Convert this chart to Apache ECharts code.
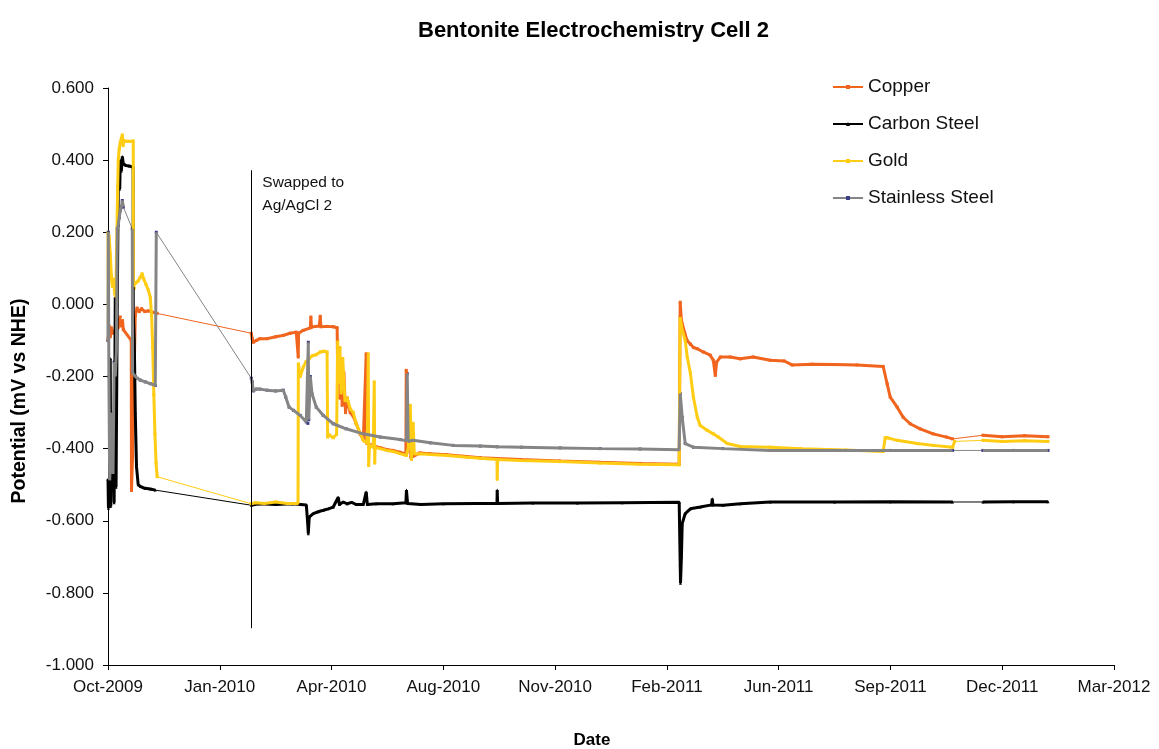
<!DOCTYPE html>
<html>
<head>
<meta charset="utf-8">
<title>Bentonite Electrochemistry Cell 2</title>
<script src="https://cdn.jsdelivr.net/npm/echarts@6/dist/echarts.min.js"></script>
<style>
  html, body { margin: 0; padding: 0; background: #fff; }
  #chart { width: 1159px; height: 749px; }
</style>
</head>
<body>
<div id="chart"></div>
<script>
// Time axis: days counted from the first reading (11 Oct 2009); ticks every 100 days.
const START_UTC = Date.UTC(2009, 9, 11);
const DAY_MS = 86400000;
const MONTHS = ['Jan','Feb','Mar','Apr','May','Jun','Jul','Aug','Sep','Oct','Nov','Dec'];
const xMin = 0, xMax = 900, xStep = 100;
const yTicks = [-1.0, -0.8, -0.6, -0.4, -0.2, 0.0, 0.2, 0.4, 0.6];

// Reference electrode swap (day, top, bottom) and its note
const swapDay = 128.2;
const swapTop = 0.372;
const swapBottom = -0.898;
const swapNote = 'Swapped to\nAg/AgCl 2';

// Readings as [day, potential V vs NHE]; null = logging gap (drawn as a thin join)
const copper = [
  [0,-0.10],[1,-0.06],[2,-0.09],[3,-0.065],[4,-0.08],[6,-0.075],[8,-0.05],[9,-0.065],[10,-0.04],[11,-0.035],
  [12,-0.06],[13,-0.045],[13.7,-0.07],[20.8,-0.10],[21,-0.516],[22,-0.42],[23,-0.25],[24.4,-0.03],[26,-0.01],
  [28,-0.02],[30,-0.012],[33,-0.02],[36,-0.018],[40,-0.022],[44,-0.025],
  null,
  [128.2,-0.08],[129,-0.095],[130,-0.105],[132.7,-0.10],[136,-0.095],[142.5,-0.095],[150,-0.09],[156.8,-0.086],
  [163,-0.08],[168.4,-0.077],[170,-0.08],[170.2,-0.146],[170.5,-0.08],[174.7,-0.072],[181,-0.065],[181.5,-0.035],
  [182,-0.063],[189,-0.06],[189.9,-0.033],[190.5,-0.062],[196,-0.061],[201.5,-0.062],[205,-0.065],[205.5,-0.20],
  [206.5,-0.12],[207.5,-0.26],[208.5,-0.15],[209.5,-0.28],[211,-0.19],[212.5,-0.30],[214,-0.26],[216.7,-0.30],
  [219.4,-0.31],[222,-0.33],[225.7,-0.36],[228.4,-0.375],[230,-0.38],[231,-0.137],[231.5,-0.385],[237,-0.392],
  [244,-0.398],[250,-0.403],[255,-0.405],[261,-0.41],[266.5,-0.415],[266.8,-0.183],[267.5,-0.41],[270,-0.30],
  [271,-0.425],[279,-0.412],[288,-0.414],[303,-0.417],[321,-0.422],[333,-0.425],[369,-0.43],[404,-0.434],
  [440,-0.438],[476,-0.441],[511,-0.443],
  [511.9,0.006],[513,-0.044],[516,-0.08],[518,-0.10],[521,-0.11],[524,-0.12],[527.2,-0.123],[532.5,-0.132],
  [538.8,-0.141],[541.5,-0.155],[543.3,-0.197],[544.5,-0.16],[547.8,-0.146],[556.6,-0.146],[565.6,-0.151],
  [577.2,-0.146],[592.4,-0.155],[605,-0.157],[612,-0.168],[630,-0.166],[650,-0.167],[670,-0.168],[693.5,-0.172],
  [697,-0.22],[699.8,-0.257],[706,-0.285],[711.4,-0.313],[717.6,-0.331],[726.5,-0.345],[738.2,-0.359],
  [750.2,-0.368],[755.6,-0.373],
  null,
  [782.7,-0.363],[800,-0.367],[820,-0.364],[841,-0.367]
];

const carbonSteel = [
  [0,-0.485],[0.4,-0.565],[1,-0.54],[1.5,-0.56],[2,-0.15],[2.5,-0.56],[3,-0.30],[3.5,-0.48],[4.5,-0.40],
  [5.5,-0.55],[6.5,0.02],[7.2,-0.507],[8.3,0.0],[9.2,0.33],[10,0.36],[10.5,0.32],[11,0.40],[12,0.37],
  [12.8,0.41],[13.7,0.39],[16,0.385],[19,0.384],[22.5,0.38],[22.6,-0.026],[23.5,-0.10],[24.4,-0.30],
  [25.5,-0.45],[27,-0.50],[29,-0.505],[33,-0.51],[38,-0.512],[42.3,-0.515],
  null,
  [128.2,-0.557],[135,-0.553],[150,-0.555],[165,-0.553],[177.4,-0.556],[178.5,-0.60],[179.2,-0.636],[180,-0.59],
  [183.6,-0.58],[188,-0.575],[192.6,-0.571],[197,-0.567],[201.5,-0.562],[206,-0.535],[207,-0.555],[210.5,-0.548],
  [214,-0.553],[218,-0.549],[222,-0.555],[228.4,-0.555],[231,-0.52],[232,-0.555],[240,-0.553],[255,-0.553],
  [266.5,-0.55],[267,-0.515],[268,-0.552],[280,-0.555],[300,-0.553],[330,-0.552],[348,-0.552],[348.2,-0.515],
  [348.6,-0.552],[380,-0.551],[420,-0.551],[460,-0.55],[511,-0.549],[511.9,-0.719],[512.2,-0.773],[513,-0.70],
  [513.7,-0.608],[516.4,-0.58],[521,-0.567],[529.8,-0.562],[540,-0.556],[540.6,-0.539],[541.2,-0.556],
  [550.4,-0.557],[565.6,-0.553],[592.4,-0.548],[650,-0.548],[700,-0.547],[755.6,-0.548],
  null,
  [782.7,-0.548],[810,-0.547],[841,-0.547]
];

const gold = [
  [0,0.20],[0.3,-0.05],[1,0.19],[2,0.14],[3,0.08],[4,0.05],[5,0.07],[6,0.03],[7,0.02],[8,0.025],[8.5,0.30],
  [9.2,0.40],[10,0.43],[11,0.45],[12,0.46],[12.8,0.47],[13.5,0.44],[14,0.455],[16,0.452],[19,0.452],
  [22.6,0.453],[22.7,0.05],[23.5,0.045],[25,0.06],[27,0.065],[28.9,0.075],[30.5,0.085],[32,0.07],[34,0.055],
  [36,0.04],[37.8,0.02],[39,-0.03],[40,-0.12],[41,-0.25],[42,-0.36],[43,-0.44],[44,-0.478],
  null,
  [128.2,-0.553],[132,-0.55],[140,-0.552],[150,-0.548],[160,-0.552],[170,-0.552],[170.3,-0.165],[172,-0.20],
  [174.7,-0.174],[177,-0.16],[180,-0.15],[183,-0.142],[186,-0.14],[189.9,-0.132],[193,-0.13],[196,-0.132],
  [196.5,-0.368],[198,-0.362],[201.5,-0.37],[204.5,-0.36],[205.5,-0.10],[206.5,-0.22],[207.5,-0.12],
  [208.5,-0.25],[210,-0.15],[212,-0.27],[214,-0.26],[216.7,-0.29],[219.4,-0.30],[222,-0.33],[225.7,-0.358],
  [228.4,-0.377],[232,-0.385],[232.8,-0.137],[233.2,-0.447],[234,-0.39],[237.3,-0.396],[238.2,-0.215],
  [238.6,-0.44],[239,-0.397],[243.6,-0.40],[249.8,-0.405],[255.2,-0.408],[261.4,-0.414],[266.8,-0.419],
  [268.5,-0.40],[270.4,-0.28],[271.5,-0.43],[273,-0.33],[274,-0.415],[279.3,-0.414],[288.3,-0.416],
  [303.5,-0.419],[321.4,-0.424],[333,-0.427],[348,-0.43],[348.2,-0.485],[348.6,-0.43],[368.8,-0.433],
  [404.5,-0.436],[440.3,-0.44],[476,-0.443],[511,-0.445],
  [511.8,-0.035],[513.7,-0.07],[516.4,-0.10],[518.2,-0.146],[521,-0.19],[523.7,-0.257],[527.2,-0.313],
  [529.8,-0.336],[536,-0.349],[541.5,-0.359],[546,-0.368],[554,-0.386],[565.6,-0.394],[592.4,-0.396],
  [620,-0.40],[660,-0.404],[693.5,-0.408],[695.3,-0.37],[697.1,-0.37],[706,-0.377],[723.9,-0.386],
  [738.2,-0.391],[755.6,-0.396],[757.4,-0.38],
  null,
  [782.7,-0.377],[800,-0.38],[820,-0.378],[841,-0.38]
];

const stainlessSteel = [
  [0,-0.10],[0.3,0.20],[0.8,-0.20],[1.5,-0.488],[2.5,-0.40],[3.5,-0.30],[4.5,-0.47],[5.5,-0.16],[6.5,-0.20],
  [7.5,-0.13],[8.3,0.21],[9.2,0.22],[10,0.24],[11,0.26],[12,0.27],[12.8,0.288],[13.7,0.27],
  null,
  [21.7,0.21],[22,-0.19],[24.4,-0.20],[26.2,-0.205],[28.9,-0.21],[33.4,-0.215],[37.8,-0.22],[42.3,-0.225],
  [43.2,0.20],
  null,
  [128.2,-0.205],[129,-0.215],[130,-0.24],[132.7,-0.235],[136,-0.235],[142.5,-0.238],[150,-0.24],
  [156.8,-0.238],[159,-0.257],[162,-0.285],[166,-0.294],[172,-0.308],[177.4,-0.326],[178.8,-0.33],
  [179.2,-0.105],[179.6,-0.32],[181,-0.20],[182.5,-0.248],[186.3,-0.285],[192.6,-0.308],[201.5,-0.331],
  [213,-0.345],[228.4,-0.359],[243.6,-0.368],[261.4,-0.375],[267,-0.378],[267.7,-0.192],[268.5,-0.38],
  [273,-0.377],[288.3,-0.384],[308.9,-0.391],[333,-0.393],[348.2,-0.395],[370,-0.396],[404.5,-0.398],
  [440.3,-0.40],[476,-0.401],[511,-0.403],[511.9,-0.247],[513.7,-0.313],[516.4,-0.386],[523.7,-0.396],
  [550,-0.40],[592.4,-0.405],[650,-0.405],[700,-0.405],[755.6,-0.405],
  null,
  [782.7,-0.405],[810,-0.405],[841,-0.405]
];

const FONT = '"Liberation Sans", Arial, Helvetica, sans-serif';

function dayLabel(v) {
  const d = new Date(START_UTC + v * DAY_MS);
  return MONTHS[d.getUTCMonth()] + '-' + d.getUTCFullYear();
}

// Thin polyline through every reading (joins gaps)
function joined(arr) { return arr.filter(p => p); }
// Dense logging runs only: gaps become breaks
function broken(arr) {
  return arr.map((p, i) => p ? p : [arr[i - 1][0], '-']);
}

const materials = [
  { name: 'Copper',          data: copper,         line: '#F0641E', mark: '#F0641E', symbol: 'rect' },
  { name: 'Carbon Steel',    data: carbonSteel,    line: '#000000', mark: '#000000', symbol: 'triangle' },
  { name: 'Gold',            data: gold,           line: '#FFCC14', mark: '#FFCC14', symbol: 'rect' },
  { name: 'Stainless Steel', data: stainlessSteel, line: '#858585', mark: '#3E3E86', symbol: 'rect' }
];

const series = [];
materials.forEach(m => {
  series.push({
    name: m.name,
    type: 'line',
    data: joined(m.data),
    connectNulls: true,
    showSymbol: true,
    symbol: m.symbol,
    symbolSize: 3,
    lineStyle: { color: m.line, width: 1 },
    itemStyle: { color: m.mark },
    emphasis: { disabled: true },
    z: 2
  });
  series.push({
    name: m.name,
    type: 'line',
    data: broken(m.data),
    connectNulls: false,
    showSymbol: false,
    symbol: 'none',
    lineStyle: { color: m.line, width: 3 },
    itemStyle: { color: m.line },
    emphasis: { disabled: true },
    z: 3
  });
});

// Reference electrode swap marker
series.push({
  name: 'swap',
  type: 'line',
  data: [],
  markLine: {
    silent: true,
    symbol: 'none',
    label: { show: false },
    lineStyle: { color: '#000', width: 1, type: 'solid' },
    data: [[{ coord: [swapDay, swapTop] }, { coord: [swapDay, swapBottom] }]]
  }
});

const chart = echarts.init(document.getElementById('chart'), null, { renderer: 'canvas' });

chart.setOption({
  animation: false,
  backgroundColor: '#fff',
  title: {
    text: 'Bentonite Electrochemistry Cell 2',
    left: 413,
    top: 15,
    textStyle: { fontFamily: FONT, fontSize: 22, fontWeight: 'bold', color: '#000' }
  },
  legend: {
    orient: 'vertical',
    left: 827,
    top: 71,
    itemWidth: 30,
    itemHeight: 5,
    itemGap: 15,
    data: materials.map(m => m.name),
    textStyle: { fontFamily: FONT, fontSize: 19, color: '#111', lineHeight: 22 }
  },
  grid: { left: 108, right: 45, top: 88, bottom: 84, containLabel: false },
  xAxis: {
    type: 'value',
    min: xMin,
    max: xMax,
    interval: xStep,
    splitLine: { show: false },
    axisLine: { show: true, onZero: false, lineStyle: { color: '#000', width: 1 } },
    axisTick: { show: true, length: 5, lineStyle: { color: '#000' } },
    axisLabel: {
      margin: 14,
      color: '#111',
      fontFamily: FONT,
      fontSize: 17,
      showMinLabel: true,
      showMaxLabel: true,
      formatter: dayLabel
    }
  },
  yAxis: {
    type: 'value',
    min: yTicks[0],
    max: yTicks[yTicks.length - 1],
    interval: 0.2,
    splitLine: { show: false },
    axisLine: { show: true, onZero: false, lineStyle: { color: '#000', width: 1 } },
    axisTick: { show: true, length: 5, lineStyle: { color: '#000' } },
    axisLabel: {
      margin: 14,
      color: '#111',
      fontFamily: FONT,
      fontSize: 17,
      formatter: v => v.toFixed(3)
    }
  },
  graphic: [
    {
      id: 'yAxisTitle',
      type: 'text',
      x: 20,
      y: 401,
      rotation: Math.PI / 2,
      style: {
        text: 'Potential (mV vs NHE)',
        fontFamily: FONT,
        fontSize: 19.5,
        fontWeight: 'bold',
        fill: '#000',
        align: 'center',
        verticalAlign: 'middle'
      }
    },
    {
      id: 'xAxisTitle',
      type: 'text',
      x: 592,
      y: 740,
      style: {
        text: 'Date',
        fontFamily: FONT,
        fontSize: 17,
        fontWeight: 'bold',
        fill: '#000',
        align: 'center',
        verticalAlign: 'middle'
      }
    }
  ],
  series: series
});

// Note beside the top of the swap line, placed through the axis scales
const noteAnchor = chart.convertToPixel({ gridIndex: 0 }, [swapDay, swapTop]);
chart.setOption({
  graphic: [
    {
      id: 'swapNote',
      type: 'text',
      x: noteAnchor[0] + 11,
      y: noteAnchor[1] + 1,
      style: {
        text: swapNote,
        fontFamily: FONT,
        fontSize: 15.5,
        lineHeight: 23,
        fill: '#111',
        align: 'left',
        verticalAlign: 'top'
      }
    }
  ]
});
</script>
</body>
</html>
